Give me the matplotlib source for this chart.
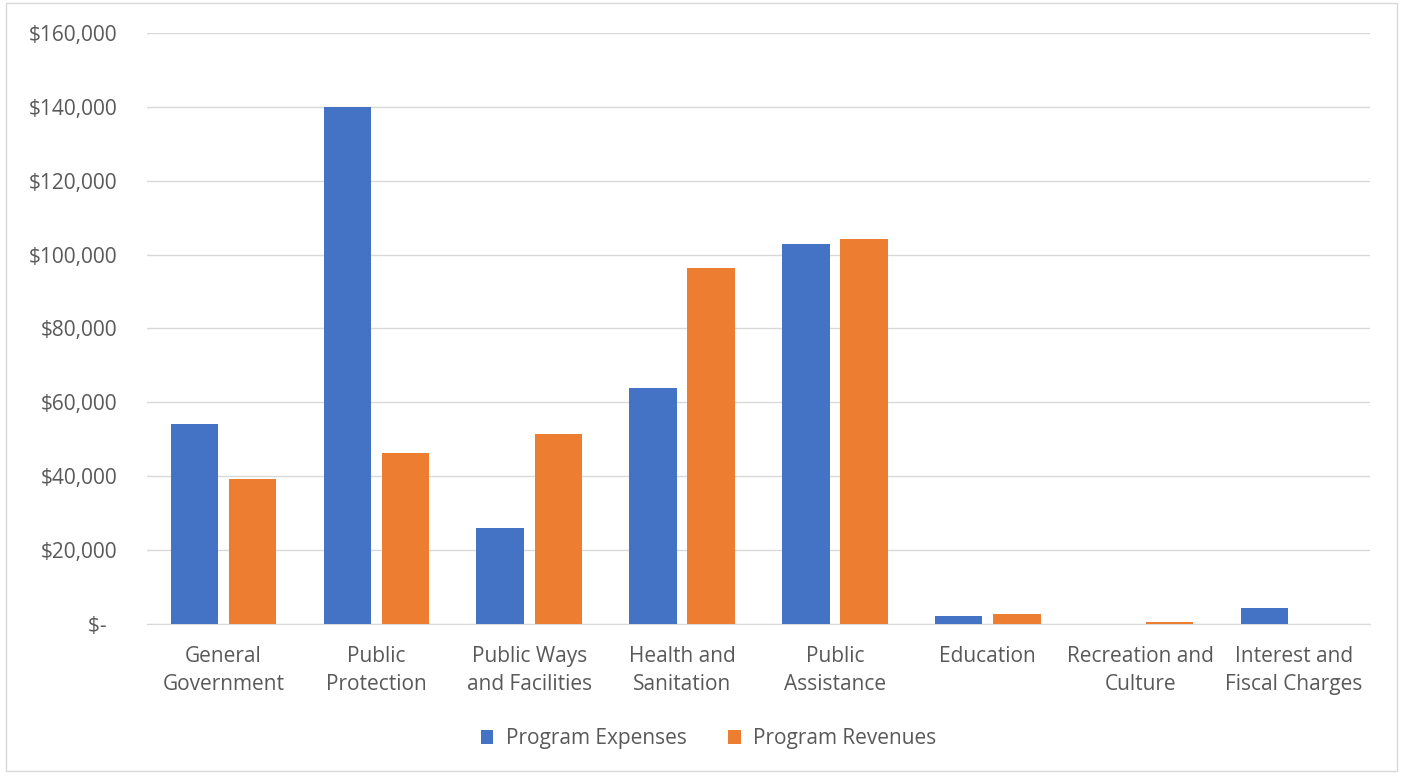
#program expenses vs program revenues by function

import numpy as np
import matplotlib.pyplot as plt
from matplotlib.patches import Rectangle
from matplotlib.ticker import FuncFormatter

plt.rc('font', family=['Open Sans', 'DejaVu Sans'], size=15)

categories = ['General\nGovernment', 'Public\nProtection', 'Public Ways\nand Facilities',
              'Health and\nSanitation', 'Public\nAssistance', 'Education',
              'Recreation and\nCulture', 'Interest and\nFiscal Charges']
expenses = [54000, 140000, 26000, 63900, 102900, 2200, 0, 4300]
revenues = [39200, 46400, 51300, 96400, 104200, 2700, 600, 0]

blue = '#4472c4'
orange = '#ed7d31'
textcol = '#595959'

fig = plt.figure(figsize=(14.03, 7.76), dpi=100)
ax = fig.add_axes([0.1048, 0.196, 0.8717, 0.7615])

#chart border
fig.patches.append(Rectangle((0.004, 0.006), 0.992, 0.99, transform=fig.transFigure,
                             fill=False, edgecolor='#d9d9d9', linewidth=1))

x = np.arange(len(categories))
w = 0.31
ax.bar(x - 0.19, expenses, w, color=blue, label='Program Expenses', zorder=3)
ax.bar(x + 0.19, revenues, w, color=orange, label='Program Revenues', zorder=3)

ax.set_xlim(-0.5, len(categories) - 0.5)
ax.set_ylim(0, 160000)
ax.set_yticks(np.arange(0, 160001, 20000))

def money(v, pos):
    if v == 0:
        return '$-  '
    return '${:,.0f}'.format(v)

ax.yaxis.set_major_formatter(FuncFormatter(money))
ax.set_xticks(x)
ax.set_xticklabels(categories, linespacing=1.45)

ax.grid(axis='y', color='#d9d9d9', linewidth=1, zorder=0)
for s in ['top', 'right', 'left']:
    ax.spines[s].set_visible(False)
ax.spines['bottom'].set_color('#d9d9d9')
ax.tick_params(axis='both', length=0, colors=textcol, labelsize=15)
ax.tick_params(axis='x', pad=16)
ax.tick_params(axis='y', pad=21)

leg = fig.legend(loc='center', bbox_to_anchor=(0.505, 0.048), ncol=2, frameon=False,
                 handlelength=0.6, handleheight=0.6, columnspacing=2.0, handletextpad=0.6,
                 fontsize=15)
for t in leg.get_texts():
    t.set_color(textcol)

fig.savefig('out.png', dpi=100)
